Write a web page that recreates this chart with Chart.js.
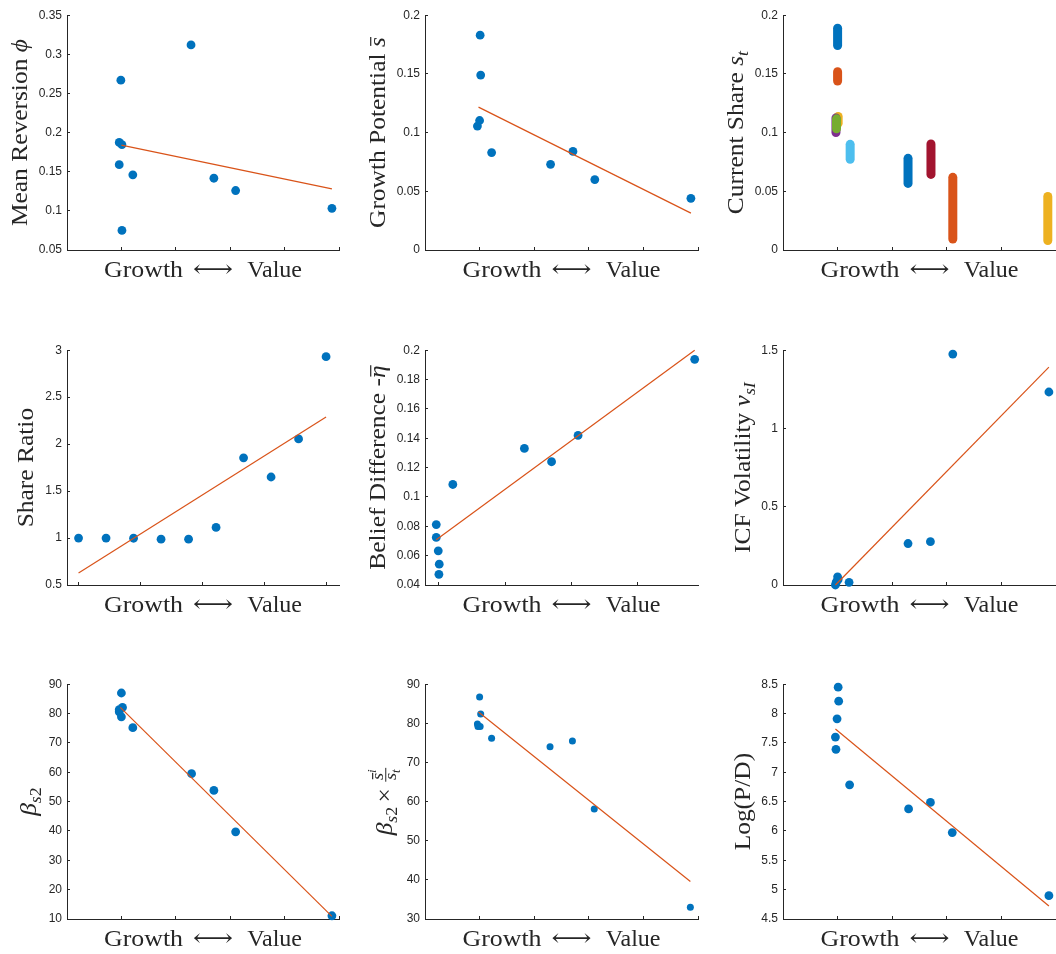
<!DOCTYPE html>
<html>
<head>
<meta charset="utf-8">
<script src="https://cdn.jsdelivr.net/npm/chart.js@4.4.1/dist/chart.umd.min.js"></script>
<style>
  body { margin: 0; background: #fff; }
  #wrap { position: relative; width: 1056px; height: 954px; overflow: hidden; }
  .panel { position: absolute; }
</style>
</head>
<body>
<div id="wrap"></div>
<script>
// ---- data ----
// mean reversion phi
const mrX = [0.99, 0.96, 1.01, 0.96, 1.01, 1.21, 2.28, 2.70, 3.10, 4.87];
const mrY = [0.267, 0.1875, 0.1846, 0.159, 0.075, 0.146, 0.312, 0.1417, 0.126, 0.1033];
const mrFitX = [1.0, 4.87];
const mrFitY = [0.184, 0.128];

// growth potential s-bar
const gpX = [1.01, 1.02, 1.0, 0.96, 1.22, 2.30, 2.71, 3.11, 4.87];
const gpY = [0.183, 0.149, 0.1103, 0.1056, 0.083, 0.073, 0.084, 0.060, 0.044];
const gpFitX = [0.98, 4.87];
const gpFitY = [0.1217, 0.0314];

// current share s_t (range of each portfolio)
const csX = [1.0, 1.0, 1.01, 0.97, 0.98, 1.23, 2.71, 2.29, 3.11, 4.85];
const csLo = [0.1742, 0.1439, 0.1079, 0.100, 0.1033, 0.0772, 0.0644, 0.0567, 0.0094, 0.0081];
const csHi = [0.1889, 0.1519, 0.1138, 0.1125, 0.1117, 0.0900, 0.0903, 0.0781, 0.0619, 0.0456];

// share ratio
const srX = [1, 2, 3, 4, 5, 6, 7, 8, 9, 10];
const srY = [1.0, 1.0, 0.998, 0.988, 0.988, 1.113, 1.854, 1.650, 2.055, 2.931];
const srFitX = [1, 10];
const srFitY = [0.628, 2.290];

// belief difference -eta-bar
const bdX = [0.96, 0.96, 0.99, 1.005, 1.0, 1.21, 2.29, 2.70, 3.10, 4.86];
const bdY = [0.0812, 0.0724, 0.0633, 0.0542, 0.0473, 0.1085, 0.1331, 0.1240, 0.1419, 0.1938];
const bdFitX = [0.96, 4.86];
const bdFitY = [0.0708, 0.2];

// ICF volatility v_sI
const ivX = [0.96, 0.97, 1.0, 0.98, 1.01, 1.21, 2.29, 2.70, 3.11, 4.87];
const ivY = [0.0, 0.012, 0.052, 0.022, 0.035, 0.017, 0.265, 0.277, 1.475, 1.233];
const ivFitX = [0.96, 4.87];
const ivFitY = [0.0, 1.392];

// beta_s2
const bX = [1.0, 1.02, 0.96, 0.96, 1.0, 1.21, 2.29, 2.70, 3.10, 4.87];
const bY = [87.0, 82.1, 81.3, 80.6, 78.9, 75.2, 59.5, 53.8, 39.7, 11.1];
const bFitX = [0.98, 4.87];
const bFitY = [82.1, 10.9];

// beta_s2 x sbar/s_t
const bsX = [1.0, 1.02, 0.96, 0.97, 1.01, 1.22, 2.29, 2.70, 3.10, 4.86];
const bsY = [86.7, 82.4, 79.85, 79.2, 79.2, 76.2, 74.0, 75.5, 58.1, 33.0];
const bsFitX = [0.98, 4.86];
const bsFitY = [82.9, 39.6];

// log(P/D)
const pdX = [1.01, 1.02, 0.99, 0.96, 0.97, 1.22, 2.30, 2.70, 3.10, 4.87];
const pdY = [8.45, 8.21, 7.91, 7.60, 7.39, 6.785, 6.376, 6.486, 5.972, 4.898];
const pdFitX = [0.96, 4.87];
const pdFitY = [7.737, 4.721];

const xTicksStd = [1, 2, 3, 4, 5];
const xTicksSR = [1, 3.25, 5.5, 7.75, 10];
const xTicksBD = [1, 2, 3, 4];

const blue = '#0072BD';
const orange = '#D95319';
const matlabColors = ['#0072BD', '#D95319', '#EDB120', '#7E2F8E', '#77AC30', '#4DBEEE', '#A2142F'];
const axisColor = '#262626';
const serif = '"Liberation Serif", "DejaVu Serif", serif';

const rowTop = [10, 345, 679];
const rowBottom = [250, 585, 919];
const colLeft = [67, 425, 783];
const colRight = [339, 698, 1056];
const colStart = [0, 350, 700];

// ---- rich text for axis titles ----
function segFont(s, size) {
  return (s.it ? 'italic ' : '') + size + 'px ' + serif;
}

function drawSegs(ctx, segs, x, y, size, draw) {
  let w0 = 0;
  segs.forEach((s) => {
    if (s.frac) {
      const fs = size * 0.72;
      const nw = drawSegs(ctx, s.frac[0], 0, 0, fs, false);
      const dw = drawSegs(ctx, s.frac[1], 0, 0, fs, false);
      const fw = Math.max(nw, dw) + 3;
      const axisY = y - size * 0.26;
      if (draw) {
        drawSegs(ctx, s.frac[0], x + w0 + (fw - nw) / 2, axisY - 3, fs, true);
        ctx.fillRect(x + w0, axisY - 0.5, fw, 1);
        drawSegs(ctx, s.frac[1], x + w0 + (fw - dw) / 2, axisY + fs * 0.62, fs, true);
      }
      w0 += fw;
      return;
    }
    const sz = (s.sub || s.sup) ? size * 0.7 : size;
    const dy = s.sub ? size * 0.2 : (s.sup ? -size * 0.38 : 0);
    ctx.font = segFont(s, sz);
    const w = ctx.measureText(s.t).width;
    if (draw) {
      ctx.fillText(s.t, x + w0, y + dy);
      if (s.bar) {
        ctx.fillRect(x + w0 + w * 0.12, y + dy - sz * 0.62, w * 0.9, 1.2);
      }
    }
    w0 += w;
  });
  return w0;
}

function drawXTitle(ctx, cx, base) {
  ctx.font = '24px ' + serif;
  // Growth, stretched a little to the wider serif of the figure
  const gw = ctx.measureText('Growth').width;
  ctx.save();
  ctx.translate(cx - 99, base);
  ctx.scale(79 / gw, 1);
  ctx.textAlign = 'left';
  ctx.fillText('Growth', 0, 0);
  ctx.restore();
  ctx.textAlign = 'right';
  ctx.fillText('Value', cx + 99, base);
  // long double arrow
  ctx.textAlign = 'center';
  const aw = ctx.measureText('\u27F7').width;
  ctx.save();
  ctx.translate(cx + 10, base);
  ctx.scale(40 / aw, 1);
  ctx.fillText('\u27F7', 0, 0);
  ctx.restore();
}

const titlePlugin = {
  id: 'richTitles',
  afterDraw(chart, args, opts) {
    const ctx = chart.ctx;
    const a = chart.chartArea;
    ctx.save();
    ctx.fillStyle = axisColor;
    ctx.textBaseline = 'alphabetic';
    drawXTitle(ctx, (a.left + a.right) / 2, a.bottom + 27);
    // y title, rotated and slightly widened
    ctx.textAlign = 'left';
    const w = drawSegs(ctx, opts.y, 0, 0, 24, false);
    ctx.translate(a.left - opts.yOff, (a.top + a.bottom) / 2);
    ctx.rotate(-Math.PI / 2);
    ctx.scale(1.06, 1);
    drawSegs(ctx, opts.y, -w / 2, 0, 24, true);
    ctx.restore();
  }
};
Chart.register(titlePlugin);

function pts(xs, ys) {
  return xs.map((x, i) => ({ x: x, y: ys[i] }));
}

function scatterSets(xs, ys, fx, fy, r) {
  return [
    { data: pts(fx, fy), showLine: true, borderColor: orange, borderWidth: 1.2,
      pointRadius: 0, clip: false, order: 0 },
    { data: pts(xs, ys), backgroundColor: blue, borderWidth: 0,
      pointRadius: r, pointHoverRadius: r, clip: false, order: 1 }
  ];
}

function shareSets() {
  return csX.map((x, i) => ({
    data: [{ x: x, y: csLo[i] }, { x: x, y: csHi[i] }],
    showLine: true,
    borderColor: matlabColors[i % matlabColors.length],
    borderWidth: 9,
    borderCapStyle: 'round',
    pointRadius: 0,
    clip: false,
    order: csX.length - i
  }));
}

function fmt(v) {
  return String(+Number(v).toFixed(4));
}

const panels = [
  { row: 0, col: 0, sets: scatterSets(mrX, mrY, mrFitX, mrFitY, 4.4), xMin: 0, xMax: 5, xt: xTicksStd,
    yMin: 0.05, yMax: 0.35, step: 0.05, yOff: 40,
    title: [{ t: 'Mean Reversion ' }, { t: '\u03D5', it: true }] },
  { row: 0, col: 1, sets: scatterSets(gpX, gpY, gpFitX, gpFitY, 4.4), xMin: 0, xMax: 5, xt: xTicksStd,
    yMin: 0, yMax: 0.2, step: 0.05, yOff: 40,
    title: [{ t: 'Growth Potential ' }, { t: 's', it: true, bar: true }] },
  { row: 0, col: 2, sets: shareSets(), xMin: 0, xMax: 5, xt: xTicksStd,
    yMin: 0, yMax: 0.2, step: 0.05, yOff: 40,
    title: [{ t: 'Current Share ' }, { t: 's', it: true }, { t: 't', it: true, sub: true }] },
  { row: 1, col: 0, sets: scatterSets(srX, srY, srFitX, srFitY, 4.4), xMin: 0.58, xMax: 10.47, xt: xTicksSR,
    yMin: 0.5, yMax: 3, step: 0.5, yOff: 34,
    title: [{ t: 'Share Ratio' }] },
  { row: 1, col: 1, sets: scatterSets(bdX, bdY, bdFitX, bdFitY, 4.4), xMin: 0.79, xMax: 4.91, xt: xTicksBD,
    yMin: 0.04, yMax: 0.2, step: 0.02, yOff: 40,
    title: [{ t: 'Belief Difference -' }, { t: '\u03B7', it: true, bar: true }] },
  { row: 1, col: 2, sets: scatterSets(ivX, ivY, ivFitX, ivFitY, 4.4), xMin: 0, xMax: 5, xt: xTicksStd,
    yMin: 0, yMax: 1.5, step: 0.5, yOff: 33,
    title: [{ t: 'ICF Volatility ' }, { t: 'v', it: true }, { t: 'sI', it: true, sub: true }] },
  { row: 2, col: 0, sets: scatterSets(bX, bY, bFitX, bFitY, 4.4), xMin: 0, xMax: 5, xt: xTicksStd,
    yMin: 10, yMax: 90, step: 10, yOff: 31,
    title: [{ t: '\u03B2', it: true }, { t: 's', it: true, sub: true }, { t: '2', sub: true }] },
  { row: 2, col: 1, sets: scatterSets(bsX, bsY, bsFitX, bsFitY, 3.5), xMin: 0, xMax: 5, xt: xTicksStd,
    yMin: 30, yMax: 90, step: 10, yOff: 33,
    title: [{ t: '\u03B2', it: true }, { t: 's', it: true, sub: true }, { t: '2 ', sub: true }, { t: '\u00D7 ' },
      { frac: [[{ t: 's', it: true, bar: true }, { t: 'i', it: true, sup: true }],
               [{ t: 's', it: true }, { t: 't', it: true, sub: true }]] }] },
  { row: 2, col: 2, sets: scatterSets(pdX, pdY, pdFitX, pdFitY, 4.4), xMin: 0, xMax: 5, xt: xTicksStd,
    yMin: 4.5, yMax: 8.5, step: 0.5, yOff: 33,
    title: [{ t: 'Log(P/D)' }] }
];

const wrap = document.getElementById('wrap');

panels.forEach((p) => {
  const x0 = colStart[p.col];
  const top = rowTop[p.row];
  const bottom = rowBottom[p.row];
  const left = colLeft[p.col];
  const right = colRight[p.col];
  const padR = p.col === 2 ? 0 : 8;
  const y0 = top - 10;
  const w = right - x0 + padR;
  const h = bottom - top + 10 + 50;

  const div = document.createElement('div');
  div.className = 'panel';
  div.style.left = x0 + 'px';
  div.style.top = y0 + 'px';
  div.style.width = w + 'px';
  div.style.height = h + 'px';
  const canvas = document.createElement('canvas');
  div.appendChild(canvas);
  wrap.appendChild(div);

  const gridOpts = { drawOnChartArea: false, tickLength: -3, color: axisColor, lineWidth: 1 };

  new Chart(canvas, {
    type: 'scatter',
    data: { datasets: p.sets },
    options: {
      animation: false,
      responsive: true,
      maintainAspectRatio: false,
      events: [],
      layout: { padding: { top: 10, right: padR, bottom: 0, left: 0 }, autoPadding: false },
      plugins: {
        legend: { display: false },
        tooltip: { enabled: false },
        richTitles: { y: p.title, yOff: p.yOff }
      },
      scales: {
        x: {
          type: 'linear',
          min: p.xMin,
          max: p.xMax,
          afterBuildTicks: (s) => { s.ticks = p.xt.map((v) => ({ value: v })); },
          afterFit: (s) => { s.height = 50; },
          ticks: { display: false },
          grid: gridOpts,
          border: { color: axisColor, width: 1 }
        },
        y: {
          type: 'linear',
          min: p.yMin,
          max: p.yMax,
          afterFit: (s) => { s.width = left - x0; },
          ticks: {
            stepSize: p.step,
            padding: 8,
            color: axisColor,
            font: { family: '"Liberation Sans", Arial, sans-serif', size: 12 },
            callback: (v) => fmt(v)
          },
          grid: gridOpts,
          border: { color: axisColor, width: 1 }
        }
      }
    }
  });
});
</script>
</body>
</html>
